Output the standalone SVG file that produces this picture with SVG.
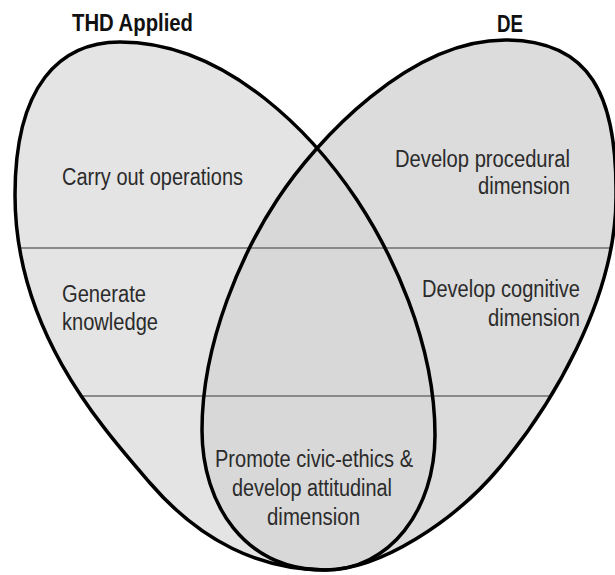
<svg xmlns="http://www.w3.org/2000/svg" width="615" height="575" viewBox="0 0 615 575">
  <style>
    .lbl { font-family: "Liberation Sans", Arial, sans-serif; font-size: 23px; fill: #2b2b2b; }
    .ttl { font-family: "Liberation Sans", Arial, sans-serif; font-size: 23px; font-weight: bold; fill: #111; }
    .outline { fill: none; stroke: #000; stroke-width: 3.5; stroke-linejoin: round; }
    .divider { stroke: #8a8a8a; stroke-width: 2.2; }
  </style>
  <defs>
    <path id="pL" d="M120,42 C60,42 15,85 15,195 C15,330 100,425 150,483 C200,541 260,570 325,570 C390,570 435,510 435,435 C435,340 390,250 357,200 C317,140 230,42 120,42 Z"/>
    <path id="pR" d="M505,40 C590,40 617,95 616,195 C617,300 548,410 500,467 C455,521 380,570 325,570 C245,570 202,505 202,430 C202,340 244,250 277,200 C317,139 410,40 505,40 Z"/>
    <clipPath id="clipL"><use href="#pL"/></clipPath>
    <clipPath id="clipU"><use href="#pL"/><use href="#pR"/></clipPath>
  </defs>
  <rect width="615" height="575" fill="#ffffff"/>

  <g id="fills">
    <use href="#pL" fill="#e4e4e4"/>
    <use href="#pR" fill="#dcdcdc"/>
    <use href="#pR" fill="#d8d8d8" clip-path="url(#clipL)"/>
  </g>

  <g id="dividers" clip-path="url(#clipU)">
    <line class="divider" x1="0" y1="248" x2="615" y2="248"/>
    <line class="divider" x1="0" y1="396" x2="615" y2="396"/>
  </g>

  <g id="thd-applied">
    <use href="#pL" class="outline"/>
    <text class="ttl" x="72" y="31" textLength="121" lengthAdjust="spacingAndGlyphs">THD Applied</text>
  </g>
  <g id="de">
    <use href="#pR" class="outline"/>
    <text class="ttl" x="497" y="32" textLength="26" lengthAdjust="spacingAndGlyphs">DE</text>
  </g>

  <g id="carry-out-operations">
    <text class="lbl" x="62" y="185" textLength="181" lengthAdjust="spacingAndGlyphs">Carry out operations</text>
  </g>
  <g id="develop-procedural">
    <text class="lbl" x="395" y="167" textLength="175" lengthAdjust="spacingAndGlyphs">Develop procedural</text>
    <text class="lbl" x="478" y="194" textLength="92" lengthAdjust="spacingAndGlyphs">dimension</text>
  </g>
  <g id="generate-knowledge">
    <text class="lbl" x="62" y="302" textLength="84" lengthAdjust="spacingAndGlyphs">Generate</text>
    <text class="lbl" x="62" y="330" textLength="96" lengthAdjust="spacingAndGlyphs">knowledge</text>
  </g>
  <g id="develop-cognitive">
    <text class="lbl" x="422" y="297" textLength="158" lengthAdjust="spacingAndGlyphs">Develop cognitive</text>
    <text class="lbl" x="488" y="326" textLength="92" lengthAdjust="spacingAndGlyphs">dimension</text>
  </g>
  <g id="promote-civic-ethics">
    <text class="lbl" x="215" y="467" textLength="198" lengthAdjust="spacingAndGlyphs">Promote civic-ethics &amp;</text>
    <text class="lbl" x="232" y="496" textLength="160" lengthAdjust="spacingAndGlyphs">develop attitudinal</text>
    <text class="lbl" x="267" y="525" textLength="93" lengthAdjust="spacingAndGlyphs">dimension</text>
  </g>
</svg>
